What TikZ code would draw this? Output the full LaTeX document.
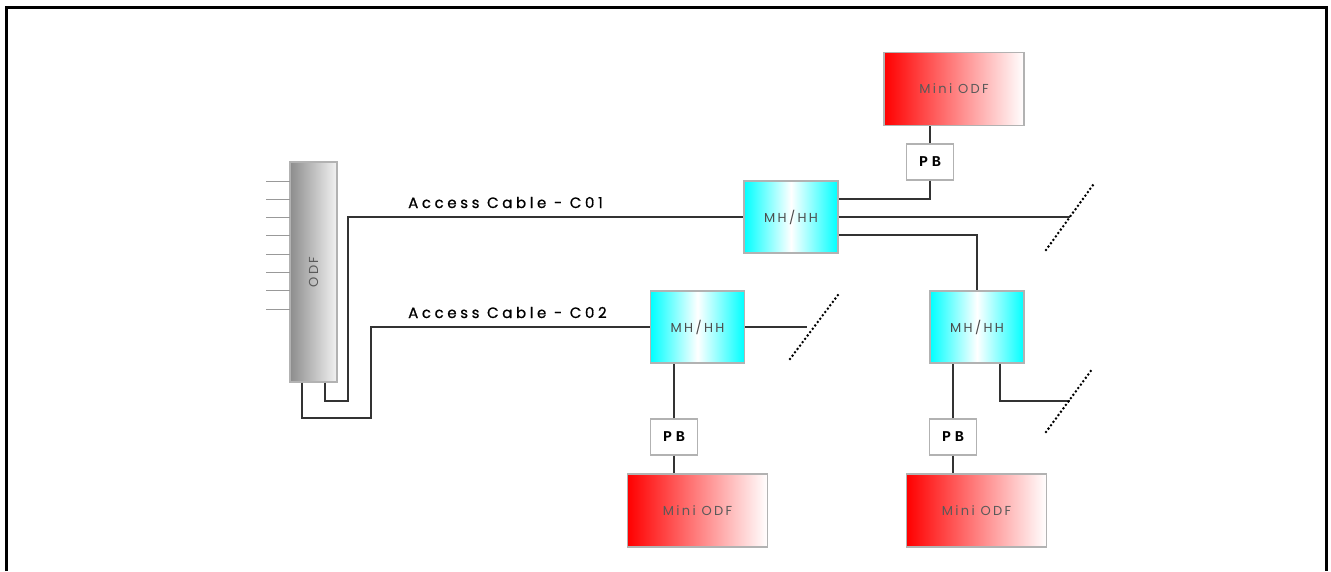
\documentclass[tikz,border=0pt]{standalone}
\usepackage{fontspec}
\setmainfont{Poppins}
\newfontfamily\cablefont[LetterSpace=24,FakeBold=0.8]{Poppins}
\newfontfamily\boxfont[LetterSpace=18]{Poppins}
\newfontfamily\pbfont[LetterSpace=24]{Liberation Mono}

\begin{document}
\begin{tikzpicture}[x=1pt,y=-1pt]
	\tikzset{box/.style={draw=gray!60,line width=1.2pt,inner sep=0pt,anchor=center}}
	\tikzset{hole/.style={box,minimum width=94pt,minimum height=72pt,left color=cyan,right color=cyan,middle color=white,text=black!70,font=\boxfont\fontsize{13}{13}\selectfont}}
	\tikzset{miniodf/.style={box,minimum width=140pt,minimum height=73pt,left color=red,right color=white,text=black!65,font=\boxfont\fontsize{13}{13}\selectfont}}
	\tikzset{pullbox/.style={box,fill=white,minimum width=47pt,minimum height=36pt,font=\pbfont\bfseries\fontsize{15}{15}\selectfont}}
	\tikzset{wire/.style={draw=black!80,line width=1.3pt}}
	\tikzset{cut/.style={line width=2.8pt,dash pattern=on 0pt off 4.2pt,line cap=round}}
	\useasboundingbox (0,0) rectangle (1331,571);
	% frame
	\draw[line width=3pt] (6,571) -- (6,7) -- (1326,7) -- (1326,571);
	% odf and the fibres going in
	\node[box,minimum width=47pt,minimum height=220pt,left color=black!45,right color=black!5] (odf) at (313.5,272) {};
	\node[rotate=90,text=black!65,font=\boxfont\fontsize{13}{13}\selectfont] (odflabel) at (odf) {ODF};
	\foreach \i in {0,...,7}
		\draw[black!40,line width=1pt] (266,181+18.3*\i) -- (290,181+18.3*\i);
	% manholes
	\node[hole] (mh1) at (791,217) {MH/HH};
	\node[hole] (mh2) at (697.5,327) {MH/HH};
	\node[hole] (mh3) at (977,327) {MH/HH};
	% pull boxes
	\node[pullbox] (pb1) at (930,162) {PB};
	\node[pullbox] (pb2) at (674,437) {PB};
	\node[pullbox] (pb3) at (953,437) {PB};
	% mini odfs
	\node[miniodf] (mini1) at (954,89) {Mini ODF};
	\node[miniodf] (mini2) at (697.5,510.5) {Mini ODF};
	\node[miniodf] (mini3) at (976.5,510.5) {Mini ODF};
	% open ends
	\coordinate (end1) at (1070,217);
	\coordinate (end2) at (807,327);
	\coordinate (end3) at (1070,401);
	% access cables
	\draw[wire] ([xshift=11.5pt]odf.south) |- (348,401) |- (mh1.west);
	\draw[wire] ([xshift=-11.5pt]odf.south) |- (371,418) |- (mh2.west);
	\node[anchor=base west,inner sep=0pt,font=\cablefont\fontsize{15}{15}\selectfont] (lab1) at (408,208) {Access Cable - C01};
	\node[anchor=base west,inner sep=0pt,font=\cablefont\fontsize{15}{15}\selectfont] (lab2) at (408,318) {Access Cable - C02};
	% branches
	\draw[wire] (pb1.north) -- (pb1.north |- mini1.south);
	\draw[wire] (pb1.south) |- ([yshift=18pt]mh1.east);
	\draw[wire] (mh1.east) -- (end1);
	\draw[wire] ([yshift=-18pt]mh1.east) -| (mh3.north);
	\draw[wire] (mh2.east) -- (end2);
	\draw[wire] (pb2.north) -- (pb2.north |- mh2.south);
	\draw[wire] (pb2.south) -- (pb2.south |- mini2.north);
	\draw[wire] (pb3.north) -- (pb3.north |- mh3.south);
	\draw[wire] (pb3.south) -- (pb3.south |- mini3.north);
	\draw[wire] ([xshift=23pt]mh3.south) |- (end3);
	% dotted cuts
	\draw[cut] (1046,250) -- (1093,185);
	\draw[cut] (790,359) -- (838,295);
	\draw[cut] (1046,432) -- (1093,368);
\end{tikzpicture}
\end{document}
